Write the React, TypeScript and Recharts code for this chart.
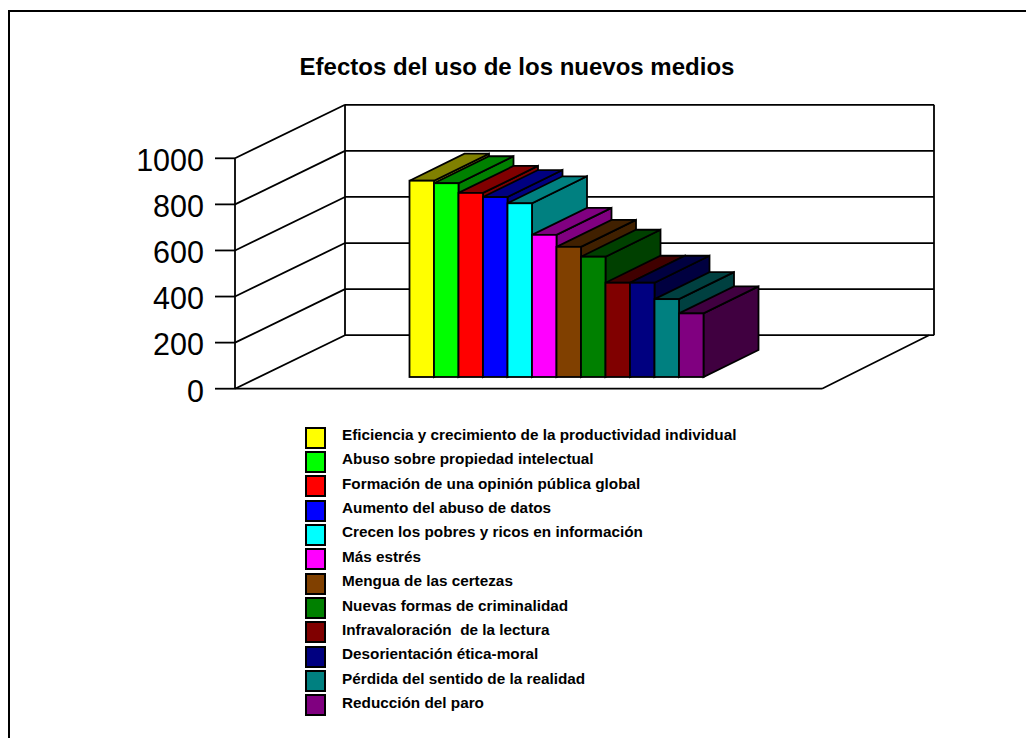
import React from "react";
import { BarChart, Bar, XAxis, YAxis, CartesianGrid, Legend } from "recharts";

const title = "Efectos del uso de los nuevos medios";
const category = [""];
const seriesNames = [
  "Eficiencia y crecimiento de la productividad individual",
  "Abuso sobre propiedad intelectual",
  "Formación de una opinión pública global",
  "Aumento del abuso de datos",
  "Crecen los pobres y ricos en información",
  "Más estrés",
  "Mengua de las certezas",
  "Nuevas formas de criminalidad",
  "Infravaloración  de la lectura",
  "Desorientación ética-moral",
  "Pérdida del sentido de la realidad",
  "Reducción del paro",
];
const seriesValues = [852, 841, 799, 781, 754, 617, 565, 522, 409, 409, 338, 276];
const frontColors = ["#ffff00", "#00ff00", "#ff0000", "#0000ff", "#00ffff", "#ff00ff", "#804000", "#008000", "#800000", "#000080", "#008080", "#800080"];
const shadeColors = ["#808000", "#008000", "#800000", "#000080", "#008080", "#800080", "#402000", "#004000", "#400000", "#000040", "#004040", "#400040"];
const yTicks = [0, 200, 400, 600, 800, 1000];

const row: Record<string, string | number> = { category: category[0] };
seriesNames.forEach((n, i) => { row[n] = seriesValues[i]; });
const data = [row];

const LINE = 1.8;
const WALL_DX = 110;
const WALL_DY = -53.5;
const SHIFT_DX = 27.5;
const SHIFT_DY = -11.7;
const DEPTH_DX = 55;
const DEPTH_DY = -27;

function Bar3D(props: any) {
  const { x, y, width, height, fill, shade } = props;
  const l = x + SHIFT_DX;
  const r = l + width;
  const t = y + SHIFT_DY;
  const b = t + height;
  const common = { stroke: "#000", strokeWidth: LINE, strokeLinejoin: "miter" as const };
  return (
    <g>
      <polygon points={`${r},${t} ${r + DEPTH_DX},${t + DEPTH_DY} ${r + DEPTH_DX},${b + DEPTH_DY} ${r},${b}`} fill={shade} {...common} />
      <polygon points={`${l},${t} ${l + DEPTH_DX},${t + DEPTH_DY} ${r + DEPTH_DX},${t + DEPTH_DY} ${r},${t}`} fill={shade} {...common} />
      <rect x={l} y={t} width={width} height={height} fill={fill} {...common} />
    </g>
  );
}

function GridLine3D(props: any) {
  const { x1, y1, x2, y, height } = props;
  const s = { stroke: "#000", strokeWidth: LINE };
  const isFloor = Math.abs(y1 - (y + height)) < 1;
  return (
    <g>
      <line x1={x1} y1={y1} x2={x1 + WALL_DX} y2={y1 + WALL_DY} {...s} />
      <line x1={x1 + WALL_DX} y1={y1 + WALL_DY} x2={x2 + WALL_DX + 2} y2={y1 + WALL_DY} {...s} />
      {isFloor && (
        <>
          <line x1={x2} y1={y1} x2={x2 + WALL_DX - 3} y2={y1 + WALL_DY} {...s} />
          <line x1={x1 + WALL_DX} y1={y + WALL_DY} x2={x1 + WALL_DX} y2={y1 + WALL_DY} {...s} />
          <line x1={x2 + WALL_DX + 2} y1={y + WALL_DY} x2={x2 + WALL_DX + 2} y2={y1 + WALL_DY} {...s} />
        </>
      )}
    </g>
  );
}

function LegendList({ payload }: any) {
  return (
    <div style={{ fontFamily: "'Liberation Sans', Arial, sans-serif", fontWeight: 700, fontSize: 15.3, color: "#000" }}>
      {(payload || []).map((p: any) => (
        <div key={p.value} style={{ position: "relative", height: 24.36, whiteSpace: "pre" }}>
          <span style={{ position: "absolute", left: 0, top: 1.5, width: 17, height: 18, background: p.color, border: "2px solid #000", display: "block" }} />
          <span style={{ position: "absolute", left: 37, top: 0, lineHeight: "20px" }}>{p.value}</span>
        </div>
      ))}
    </div>
  );
}

export default function App() {
  return (
    <div style={{ position: "fixed", left: 0, top: 0, width: 1026, height: 738, overflow: "hidden", background: "#fff" }}>
      <div style={{ position: "absolute", left: 8, top: 10, right: -4, bottom: -4, borderLeft: "2px solid #000", borderTop: "2px solid #000" }} />
      <div style={{ position: "absolute", left: 0, width: 1034, textAlign: "center", top: 52, fontFamily: "'Liberation Sans', Arial, sans-serif", fontWeight: 700, fontSize: 24, lineHeight: "30px", color: "#000" }}>
        {title}
      </div>
      <div style={{ position: "absolute", left: 0, top: 0 }}>
        <BarChart
          width={1026}
          height={738}
          data={data}
          margin={{ top: 158.3, left: 135, right: 204, bottom: 319.3 }}
          barSize={24.5}
          barGap={0}
        >
          <CartesianGrid horizontal={(p: any) => <GridLine3D key={p.key} {...p} />} vertical={false} stroke="#000" syncWithTicks />
          <XAxis
            dataKey="category"
            height={30}
            tick={false}
            tickSize={18}
            axisLine={{ stroke: "#000", strokeWidth: LINE }}
            tickLine={{ stroke: "#000", strokeWidth: LINE }}
          />
          <YAxis
            width={100}
            domain={[0, 1000]}
            ticks={yTicks}
            interval={0}
            tickSize={20}
            tickMargin={11}
            axisLine={{ stroke: "#000", strokeWidth: LINE }}
            tickLine={{ stroke: "#000", strokeWidth: LINE }}
            tick={{ fill: "#000", fontSize: 30.5, dy: 2, fontFamily: "'Liberation Sans', Arial, sans-serif" }}
          />
          <Legend
            layout="vertical"
            align="center"
            verticalAlign="middle"
            itemSorter={null}
            content={<LegendList />}
            wrapperStyle={{ left: 305, top: 425, width: 460, height: 300 }}
          />
          {seriesNames.map((n, i) => (
            <Bar
              key={n}
              dataKey={n}
              name={n}
              fill={frontColors[i]}
              isAnimationActive={false}
              shape={(p: any) => <Bar3D {...p} shade={shadeColors[i]} fill={frontColors[i]} />}
            />
          ))}
        </BarChart>
      </div>
    </div>
  );
}
